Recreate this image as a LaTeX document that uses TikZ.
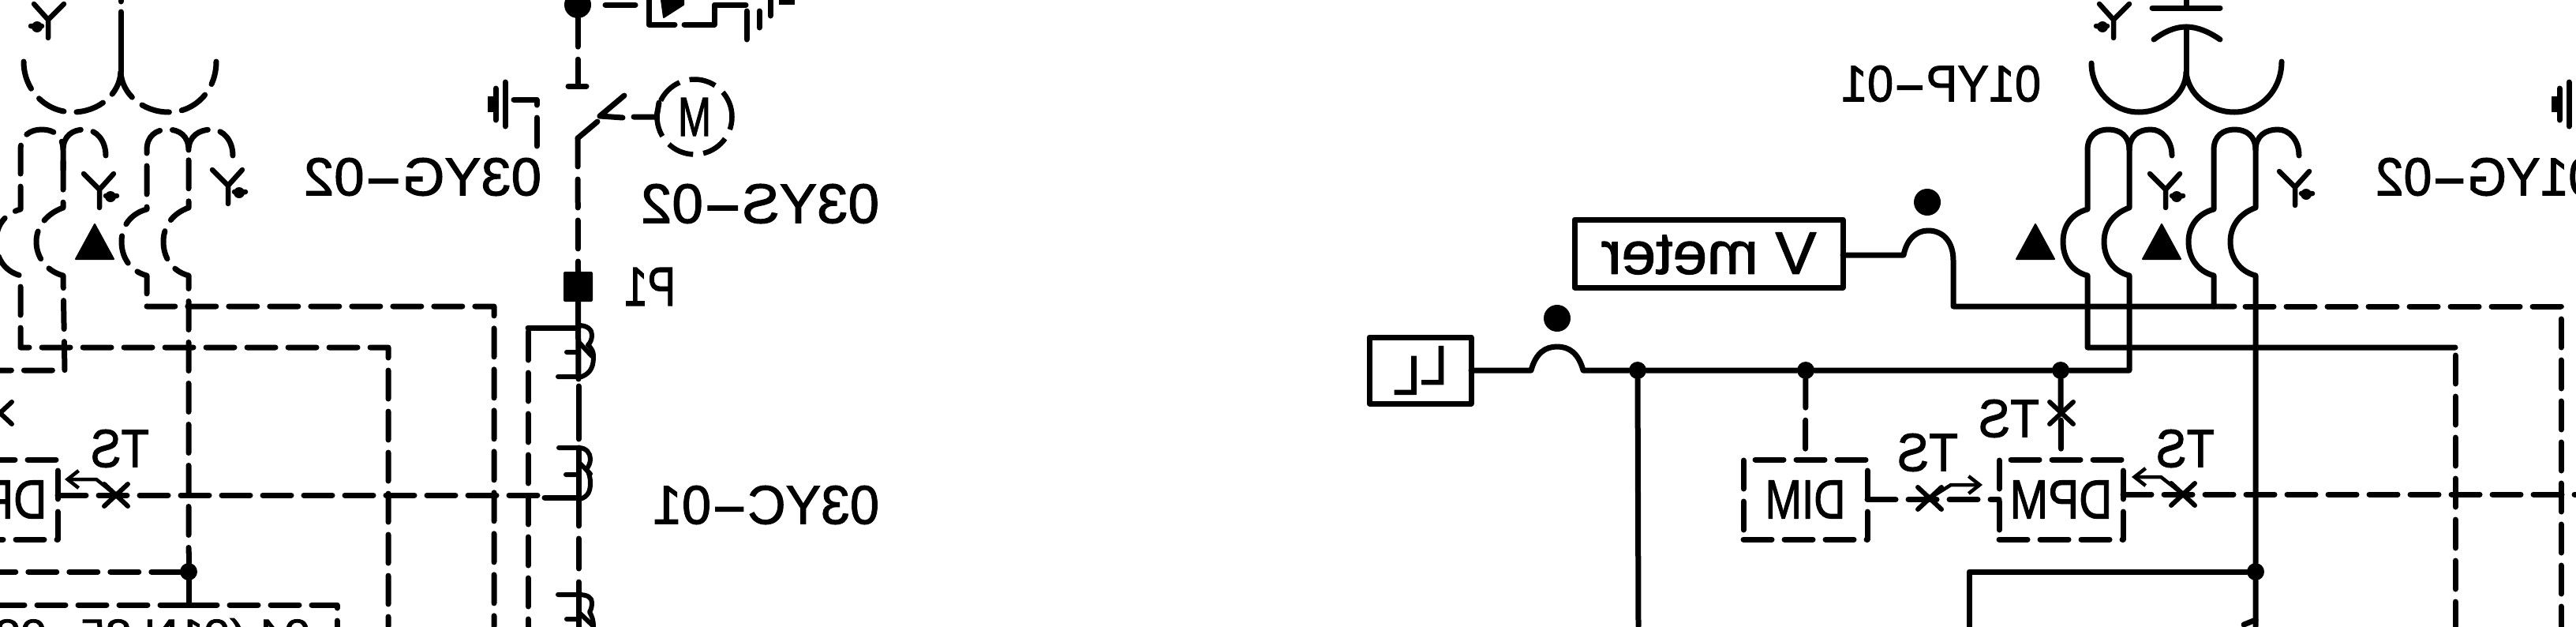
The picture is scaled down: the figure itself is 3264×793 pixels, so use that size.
\documentclass[tikz,border=0pt]{standalone}
\usepackage{fontspec}
\usepackage{graphicx}
\usetikzlibrary{arrows.meta}
\setmainfont[FakeBold=1.6]{Liberation Sans}
\newcommand{\mt}[3]{\reflectbox{\resizebox*{#1pt}{#2pt}{\fontsize{66}{70}\selectfont #3}}}
\newcommand{\hy}{\scalebox{2.1}[1]{-}}
\tikzset{
  wire/.style={line width=7pt,line cap=round,line join=round,black},
  dsh/.style={wire,dash pattern=on 36pt off 16pt},
  lab/.style={inner sep=0pt,outer sep=0pt,black},
  sbox/.style={draw,line width=7pt,line join=round,inner sep=0pt,outer sep=0pt,anchor=center},
  dbox/.style={sbox,dash pattern=on 36pt off 16pt,line cap=round},
  dotj/.style={circle,fill=black,inner sep=0pt,minimum size=22pt},
  tsarrow/.style={line width=4.5pt,line cap=round,line join=round,-{Straight Barb[length=14pt,width=22pt]}},
  wye/.pic={
    \draw[line width=6.5pt,line cap=round,line join=round] (-20,-20) -- (0,0) -- (18,-20) (0,0) -- (0,23) (8,8) -- (22,8);
    \fill (14,9) circle (7pt);
  },
  tri/.pic={\fill[line join=round,draw,line width=2pt] (-24,22) -- (24,22) -- (0,-22) -- cycle;},
  xmark/.pic={\draw[line width=6pt,line cap=round] (-15,-14) -- (15,14) (-15,14) -- (15,-14);},
  earthmk/.pic={
    \draw[line width=7pt,line cap=round] (0,-25) -- (0,31) (-12,-17) -- (-12,23);
    \fill (-22,-7) rectangle (-15,13);
  },
}
\begin{document}
\begin{tikzpicture}[x=1pt,y=-1pt]
\useasboundingbox (0,0) rectangle (3264,793);
\clip (0,0) rectangle (3264,793);

% ------- nodes of the right (solid) half
\node[sbox,minimum width=340pt,minimum height=86pt] (vm) at (2165,321) {\mt{273}{53}{V meter}};
\node[sbox,minimum width=129pt,minimum height=84pt] (ll) at (1799.5,469) {\mt{69}{61}{L\raisebox{-.26\height}{L}}};
\node[dbox,minimum width=157pt,minimum height=101pt] (dim) at (2287.5,632.5) {\mt{102}{48}{DIM}};
\node[dbox,minimum width=157pt,minimum height=101pt] (dpmr) at (2611.5,632.5) {\mt{130}{48}{DPM}};
\node[dbox,minimum width=157pt,minimum height=101pt] (dpml) at (-5.5,632.5) {\mt{130}{48}{DPM}};
\node[dotj] (j1) at (2075,469) {};
\node[dotj] (j2) at (2288,469) {};
\node[dotj] (j3) at (2611,469) {};
\node[dotj] (j4) at (2858,724) {};
\node[dotj] (j5) at (239,724) {};
\node[circle,fill=black,inner sep=0pt,minimum size=34pt] (j6) at (732,6) {};
\node[circle,fill=black,inner sep=0pt,minimum size=34pt] (dotl) at (1973,403) {};
\node[circle,fill=black,inner sep=0pt,minimum size=34pt] (dotv) at (2442,256) {};
\node[fill=black,inner sep=0pt,minimum width=37pt,minimum height=38pt,rounded corners=2pt] (p1) at (732.5,363) {};
\node[circle,draw,dash pattern=on 34pt off 13pt,line width=6.5pt,inner sep=0pt,minimum size=95pt] (mot) at (880,148) {\mt{42}{48}{M}};

% ------- labels
\node[lab] (l1) at (2459.5,106) {\mt{253}{46}{01YP\hy 01}};
\node[lab] (l2) at (535.5,224) {\mt{301}{48}{03YG\hy 02}};
\node[lab] (l3) at (3150,224) {\mt{280}{48}{01YG\hy 02}};
\node[lab] (l4) at (963,258) {\mt{302}{50}{03YS\hy 02}};
\node[lab] (l5) at (823.5,363) {\mt{65}{48}{P1}};
\node[lab] (l6) at (970.5,639.5) {\mt{287}{49}{03YC\hy 01}};
\node[lab] (ts1) at (152,568) {\mt{74}{48}{TS}};
\node[lab] (ts2) at (2442.5,573) {\mt{77}{48}{TS}};
\node[lab] (ts3) at (2545.5,530) {\mt{77}{48}{TS}};
\node[lab] (ts4) at (2769,568) {\mt{74}{48}{TS}};
\node[lab] (l7) at (193,807) {\mt{400}{48}{04 (01N 35\hy 02}};

% ------- transformer, right (solid)
\coordinate (st) at (2770,0);
\coordinate (stm) at (2770,91);
\draw[wire] (st) -- (2770,10);
\draw[wire] (2727,10) -- (2813,10);
\draw[wire] (2729,50) .. controls (2741,41) and (2755,34) .. (2770,34) .. controls (2785,34) and (2800,41) .. (2813,50);
\draw[wire] (2770,34) -- (stm);
\draw[wire] (2650,80) .. controls (2650,114) and (2677,142) .. (2710,142) .. controls (2743,142) and (2770,118) .. (stm)
   .. controls (2772,118) and (2798,142) .. (2831,142) .. controls (2864,142) and (2891,114) .. (2891,78);

% coil 1
\draw[wire] (2698,190) .. controls (2698,172) and (2686,164) .. (2671.5,164) .. controls (2657,164) and (2645,172) .. (2645,190) -- (2645,265)
  .. controls (2623,271) and (2614,288) .. (2614,306) .. controls (2614,325) and (2623,343) .. (2645,349) -- (2645,440) -- (3111,440);
\draw[wire] (2752,197) .. controls (2752,178) and (2740,164) .. (2725,164) .. controls (2710,164) and (2698,172) .. (2698,190) -- (2698,263)
  .. controls (2676,271) and (2666,288) .. (2666,306) .. controls (2666,325) and (2676,343) .. (2698,349) -- (2698,469) -- (j3);
% coil 2
\draw[wire] (2858,190) .. controls (2858,172) and (2846,164) .. (2831.5,164) .. controls (2817,164) and (2805,172) .. (2805,190) -- (2805,265)
  .. controls (2783,271) and (2773,288) .. (2773,306) .. controls (2773,325) and (2783,343) .. (2805,349) -- (2805,388);
\draw[wire] (2913,197) .. controls (2913,178) and (2901,164) .. (2886,164) .. controls (2871,164) and (2858,172) .. (2858,190) -- (2858,263)
  .. controls (2836,271) and (2826,288) .. (2826,306) .. controls (2826,325) and (2836,343) .. (2858,349) -- (j4) -- (2858,793);
\draw[wire] (2858,785) -- (2843,791);

% busses
\draw[wire] (ll.east) -- (1940,469) .. controls (1946,447) and (1958,439) .. (1973,439) .. controls (1988,439) and (2000,447) .. (2006,469) -- (j1) -- (j2) -- (j3);
\draw[wire] (j1) -- (2076,793);
\draw[wire] (vm.east |- 0,323) -- (2412,323) .. controls (2416,303) and (2428,292) .. (2443,292) .. controls (2462,292) and (2475,306) .. (2475,330) -- (2475,388) -- (2831,388);
\draw[dsh] (2845,388) -- (3245,388) -- (3245,793);
\draw[dsh] (3111,450) -- (3111,793);
\draw[wire] (j4) -- (2495,724) -- (2495,793);

% measuring chain, right
\draw[dsh] (j2) -- (dim.north);
\draw[dsh] (dim.east) -- (dpmr.west);
\draw[dsh] (j3) -- (dpmr.north);
\draw[dsh] (dpmr.east |- 0,626) -- (3264,626);
\pic at (2445,631) {xmark};
\pic at (2766,626) {xmark};
\pic at (2612,523) {xmark};
\draw[tsarrow] (2445,631) -- (2472,614) -- (2512,614);
\draw[tsarrow] (2766,626) -- (2738,604) -- (2701,604);
\pic at (2579,306) {tri};
\pic at (2739,306) {tri};
\pic at (2744,240) {wye};
\pic at (2908,237) {wye};
\pic[xscale=-1] at (2678,25) {wye};
\pic at (3255,129) {earthmk};

% ------- transformer, left (dashed)
\coordinate (sl) at (153,0);
\coordinate (slm) at (153,91);
\draw[wire] (sl) -- (153,2);
\draw[wire] (153,15) -- (slm);
\draw[dsh] (30,78) .. controls (30,114) and (58,142) .. (92,142) .. controls (126,142) and (152,118) .. (slm);
\draw[dsh] (slm) .. controls (154,118) and (180,142) .. (214,142) .. controls (248,142) and (274,114) .. (274,78);
% coil A
\draw[dsh] (80,215) -- (80,190) .. controls (80,172) and (68,164) .. (53,164) .. controls (38,164) and (26,172) .. (26,190) -- (26,265)
  .. controls (4,271) and (-5,288) .. (-5,306) .. controls (-5,325) and (4,343) .. (26,349) -- (26,440) -- (492,440) -- (492,793);
\draw[dsh] (134,197) .. controls (134,178) and (122,164) .. (107,164) .. controls (92,164) and (80,172) .. (80,190) -- (80,263)
  .. controls (58,271) and (46,288) .. (46,306) .. controls (46,325) and (58,343) .. (80,349) -- (82,469) -- (0,469);
% coil B
\draw[dsh] (239,190) .. controls (239,172) and (227,164) .. (212.5,164) .. controls (198,164) and (186,172) .. (186,190) -- (186,265)
  .. controls (164,271) and (154,288) .. (154,306) .. controls (154,325) and (164,343) .. (186,349) -- (186,388) -- (626,388) -- (626,793);
\draw[dsh] (295,197) .. controls (295,178) and (283,164) .. (268,164) .. controls (253,164) and (239,172) .. (239,190) -- (239,263)
  .. controls (217,271) and (207,288) .. (207,306) .. controls (207,325) and (217,343) .. (239,349) -- (239,700);
\draw[wire] (239,700) -- (j5) -- (239,766);
\draw[dsh] (j5) -- (0,724);
\draw[dsh] (239,766) -- (427,766) -- (427,793);
\draw[dsh] (239,766) -- (0,766);

\draw[dsh] (dpml.east |- 0,627) -- (690,627);
\draw[wire] (690,630) -- (733,630);
\pic at (147,627) {xmark};
\draw[tsarrow] (147,627) -- (122,607) -- (82,607);
\pic at (0,523) {xmark};
\pic at (120,306) {tri};
\pic at (126,240) {wye};
\pic at (289,235) {wye};
\pic[xscale=-1] at (61,25) {wye};

% ------- main riser, left
\draw[dsh] (j6) -- (732,81);
\draw[wire] (732,81) -- (732,109);
\draw[wire] (720,109) -- (743,109);
\draw[wire] (732,175) -- (757,154);
\draw[dsh] (732,175) -- (p1.north);
\draw[wire] (791,121) -- (760,147) -- (789,149);
\draw[wire] (803,148) -- (832,148) -- (835,130);
\draw[wire] (p1.south) -- (733,480);
\draw[wire] (733,415) -- (669,415);
\draw[dsh] (669,420) -- (669,793);
% CT 1
\draw[wire,line width=6pt] (733,412) .. controls (745,412) and (750,418) .. (750,424) .. controls (750,430) and (748,434) .. (745,437) .. controls (750,441) and (752,446) .. (752,451) .. controls (752,462) and (750,472) .. (737,477) -- (707,477);
\draw[wire,line width=6pt] (718,446) -- (733,446) (733,433) -- (750,451);
\draw[wire] (733,489) -- (733,556);
% CT 2
\draw[wire,line width=6pt] (708,567) -- (733,567) .. controls (743,567) and (748,574) .. (748,581) .. controls (748,586) and (746,591) .. (743,594) .. controls (747,599) and (748,606) .. (748,612) .. controls (748,622) and (745,629) .. (735,632);
\draw[wire,line width=6pt] (717,601) -- (733,601) (733,585) -- (748,600);
\draw[wire] (733,567) -- (733,666);
\draw[wire] (733,682) -- (733,720);
\draw[wire] (733,737) -- (733,793);
% CT 3
\draw[wire,line width=6pt] (707,753) -- (733,753) .. controls (745,753) and (750,757) .. (750,763) .. controls (750,768) and (749,772) .. (747,775) .. controls (750,780) and (752,786) .. (752,793);
\draw[wire,line width=6pt] (718,784) -- (733,784) (733,775) -- (752,793);

% earth, upper left
\draw[dsh] (680,185) -- (680,126) -- (646,126);
\pic at (640,129) {earthmk};

% top right of riser
\draw[wire] (767,6) -- (805,6);
\draw[wire] (822,0) -- (822,31) -- (855,31);
\draw[wire] (867,31) -- (905,31) -- (905,6) -- (945,6);
\draw[wire] (946,14) -- (946,50);
\draw[wire] (962,14) -- (962,35);
\draw[wire] (976,0) -- (976,20);
\fill[line join=round,draw,line width=2pt] (838,0) -- (866,0) -- (866,6) -- (841,22) -- cycle;
\fill (987,0) rectangle (1007,6);
\end{tikzpicture}
\end{document}
